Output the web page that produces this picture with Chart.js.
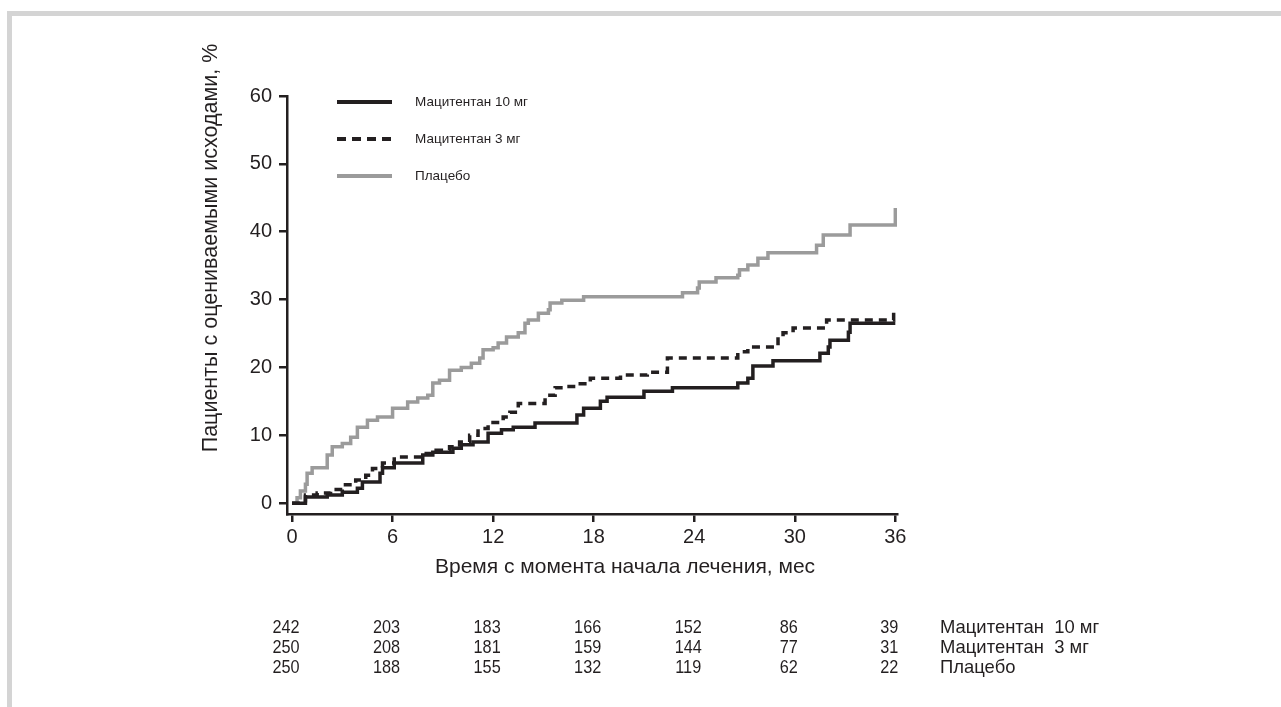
<!DOCTYPE html>
<html>
<head>
<meta charset="utf-8">
<script src="https://cdn.jsdelivr.net/npm/chart.js@4.4.0/dist/chart.umd.min.js"></script>
<style>
    html, body { margin: 0; padding: 0; background: #fff; width: 1281px; height: 707px; overflow: hidden; }
    #marco { position: absolute; left: 7px; top: 11px; right: 0; bottom: 0; border-top: 5px solid #d4d4d4; border-left: 5px solid #d4d4d4; }
    #contenedor { position: absolute; left: 0; top: 0; width: 1281px; height: 707px; }
</style>
</head>
<body>
<div id="marco"></div>
<div id="contenedor"><canvas id="grafico" width="1281" height="707"></canvas></div>
<script>
// ejes
const meses = [0, 6, 12, 18, 24, 30, 36];
const porcentajes = [0, 10, 20, 30, 40, 50, 60];
const series = ['Мацитентан 10 мг', 'Мацитентан 3 мг', 'Плацебо'];
const etiquetasTabla = ['Мацитентан  10 мг', 'Мацитентан  3 мг', 'Плацебо'];

// curvas (mes del salto, % acumulado despues del salto)
const tiempo10 = [0, 0.8, 2.1, 3.0, 3.9, 4.2, 5.25, 5.4, 6.1, 7.8, 8.4, 9.6, 10.1, 10.8, 11.7, 12.5, 13.2, 14.5, 17.0, 17.4, 18.4, 18.8, 21.0, 22.7, 26.6, 27.2, 27.5, 28.7, 31.5, 32.0, 32.1, 33.2, 33.3, 36.0];
const pct10    = [0, 0.9, 1.2, 1.6, 2.2, 3.1, 4.4, 5.2, 5.9, 7.1, 7.5, 8.1, 8.6, 9.0, 10.3, 10.8, 11.2, 11.8, 13.0, 14.0, 15.0, 15.6, 16.5, 17.0, 17.7, 18.4, 20.2, 21.0, 22.1, 23.0, 24.0, 25.2, 26.5, 26.5];

const tiempo3 = [0, 0.8, 1.5, 2.3, 3.0, 3.8, 4.4, 4.8, 5.4, 6.1, 7.9, 8.6, 9.4, 10.0, 10.6, 11.1, 11.7, 12.6, 13.0, 13.5, 15.1, 15.7, 16.4, 17.2, 17.8, 19.6, 21.2, 22.4, 26.6, 27.2, 29.0, 29.3, 29.9, 31.9, 35.9];
const pct3    = [0, 1.2, 1.5, 2.0, 2.7, 3.4, 4.1, 5.1, 5.9, 6.8, 7.3, 7.8, 8.3, 9.0, 10.0, 11.0, 11.9, 12.7, 13.4, 14.7, 15.9, 17.0, 17.2, 17.6, 18.4, 18.9, 19.3, 21.4, 22.3, 23.0, 24.5, 25.1, 25.8, 27.0, 28.3];

const tiempoPlac = [0, 0.3, 0.5, 0.8, 0.9, 1.2, 2.1, 2.4, 3.0, 3.5, 3.9, 4.5, 5.1, 6.0, 6.9, 7.5, 8.1, 8.4, 8.8, 9.4, 10.1, 10.7, 11.2, 11.4, 12.0, 12.3, 12.8, 13.5, 13.9, 14.1, 14.7, 15.3, 15.4, 16.1, 17.4, 23.3, 24.2, 24.3, 25.3, 26.6, 26.7, 27.2, 27.8, 28.4, 31.3, 31.7, 33.3, 36.0];
const pctPlac    = [0, 0.8, 1.8, 2.8, 4.4, 5.2, 7.1, 8.3, 8.8, 9.7, 11.2, 12.2, 12.7, 14.0, 14.9, 15.5, 15.9, 17.7, 18.1, 19.6, 20.0, 20.6, 21.4, 22.6, 22.9, 23.6, 24.5, 25.1, 26.5, 27.0, 28.0, 28.5, 29.5, 29.9, 30.4, 31.0, 31.7, 32.6, 33.2, 33.6, 34.4, 35.1, 36.1, 36.9, 38.0, 39.5, 41.0, 43.5];

// pacientes en riesgo
const riesgo10 = [242, 203, 183, 166, 152, 86, 39];
const riesgo3 = [250, 208, 181, 159, 144, 77, 31];
const riesgoPlac = [250, 188, 155, 132, 119, 62, 22];

const negro = '#231f20';
const gris = '#9b9b9b';
const fuente = "'Liberation Sans', Arial, sans-serif";

const puntos = (t, p) => t.map((x, i) => ({ x: x, y: p[i] }));

const textosExtra = {
    id: 'textosExtra',
    afterDraw(chart) {
        const c = chart.ctx;
        const xs = chart.scales.x;
        c.save();
        c.fillStyle = negro;

        // titulo eje y
        c.save();
        c.translate(211, 248);
        c.rotate(-Math.PI / 2);
        c.font = `21.5px ${fuente}`;
        c.textAlign = 'center';
        c.textBaseline = 'middle';
        c.fillText('Пациенты с оцениваемыми исходами, %', 0, 0);
        c.restore();

        // titulo eje x
        c.font = `21px ${fuente}`;
        c.textAlign = 'center';
        c.textBaseline = 'middle';
        c.fillText('Время с момента начала лечения, мес', 625, 567);

        // leyenda
        chart.data.datasets.forEach((d, i) => {
            const y = 102 + i * 37;
            c.beginPath();
            c.strokeStyle = d.borderColor;
            c.lineWidth = 4;
            c.setLineDash(d.borderDash ? [9, 6] : []);
            c.moveTo(337, y);
            c.lineTo(392, y);
            c.stroke();
            c.setLineDash([]);
            c.font = `13.5px ${fuente}`;
            c.textAlign = 'left';
            c.fillStyle = negro;
            c.fillText(d.label, 415, y);
        });

        // tabla de pacientes en riesgo
        const filas = [riesgo10, riesgo3, riesgoPlac];
        filas.forEach((fila, j) => {
            const y = 628 + j * 20;
            c.font = `18.5px ${fuente}`;
            c.textAlign = 'center';
            fila.forEach((v, k) => {
                const px = xs.getPixelForValue(meses[k]) - 6;
                c.save();
                c.translate(px, y);
                c.scale(0.88, 1);
                c.fillText(String(v), 0, 0);
                c.restore();
            });
            c.font = `19px ${fuente}`;
            c.textAlign = 'left';
            c.save();
            c.translate(940, y);
            c.scale(0.97, 1);
            c.fillText(etiquetasTabla[j], 0, 0);
            c.restore();
        });
        c.restore();
    }
};

const ctx = document.getElementById('grafico');

let dataGrafico = {
    type: 'line',
    data: {
        datasets: [{
                label: series[0],
                data: puntos(tiempo10, pct10),
                borderColor: negro,
                borderWidth: 3.5,
                stepped: 'before',
                pointRadius: 0
            },
            {
                label: series[1],
                data: puntos(tiempo3, pct3),
                borderColor: negro,
                borderWidth: 3.5,
                borderDash: [8, 6],
                stepped: 'before',
                pointRadius: 0
            },
            {
                label: series[2],
                data: puntos(tiempoPlac, pctPlac),
                borderColor: gris,
                borderWidth: 3.5,
                stepped: 'before',
                pointRadius: 0
            }
        ]
    },
    options: {
        responsive: false,
        animation: false,
        layout: { padding: { left: 0, top: 96, right: 384, bottom: 0 } },
        plugins: {
            legend: { display: false },
            tooltip: { enabled: false }
        },
        scales: {
            x: {
                type: 'linear',
                min: -0.3,
                max: 36.1,
                afterBuildTicks: s => { s.ticks = meses.map(v => ({ value: v })); },
                afterFit: s => { s.height = 193; },
                border: { color: negro, width: 2.5 },
                grid: { drawOnChartArea: false, drawTicks: true, tickLength: 8, color: negro, lineWidth: 2.5 },
                ticks: { color: negro, font: { family: fuente, size: 20 }, padding: 3, maxRotation: 0 }
            },
            y: {
                min: -1.6,
                max: 60,
                afterBuildTicks: s => { s.ticks = porcentajes.map(v => ({ value: v })); },
                afterFit: s => { s.width = 287; },
                border: { color: negro, width: 2.5 },
                grid: { drawOnChartArea: false, drawTicks: true, tickLength: 8, color: negro, lineWidth: 2.5 },
                ticks: { color: negro, font: { family: fuente, size: 20 }, padding: 7 }
            }
        }
    },
    plugins: [textosExtra]
};

window.chartCurvas = new Chart(ctx, dataGrafico);
</script>
</body>
</html>
